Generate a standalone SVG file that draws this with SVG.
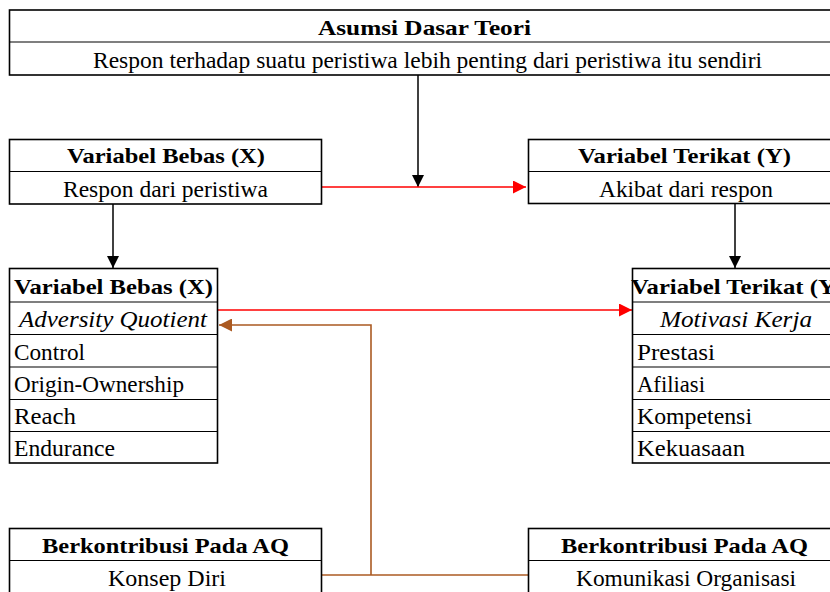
<svg xmlns="http://www.w3.org/2000/svg" width="830" height="592" viewBox="0 0 830 592">
  <style>
    .box { fill: #ffffff; stroke: #000000; stroke-width: 1.6; }
    .div { stroke: #000000; stroke-width: 1.2; }
    text { font-family: "Liberation Serif", "Times New Roman", serif; fill: #000000; }
    .hd { font-size: 22px; font-weight: bold; }
    .tx { font-size: 24px; }
    .it { font-size: 24px; font-style: italic; }
    .blk { stroke: #000000; stroke-width: 1.5; fill: none; }
    .red { stroke: #ff0000; stroke-width: 1.6; fill: none; }
    .brn { stroke: #ab5a22; stroke-width: 1.6; fill: none; }
  </style>
  <defs>
    <marker id="ah-black" viewBox="0 0 12 12" refX="12" refY="6" markerWidth="12" markerHeight="12" markerUnits="userSpaceOnUse" orient="auto">
      <path d="M0,0 L12,6 L0,12 z" fill="#000000"/>
    </marker>
    <marker id="ah-red" viewBox="0 0 13 13" refX="13" refY="6.5" markerWidth="13" markerHeight="13" markerUnits="userSpaceOnUse" orient="auto">
      <path d="M0,0 L13,6.5 L0,13 z" fill="#ff0000"/>
    </marker>
    <marker id="ah-brown" viewBox="0 0 13 13" refX="13" refY="6.5" markerWidth="13" markerHeight="13" markerUnits="userSpaceOnUse" orient="auto">
      <path d="M0,0 L13,6.5 L0,13 z" fill="#ab5a22"/>
    </marker>
  </defs>

  <rect width="830" height="592" fill="#ffffff"/>

  <!-- connectors -->
  <g id="connectors">
    <line class="blk" x1="418" y1="75" x2="418" y2="187" marker-end="url(#ah-black)"/>
    <line class="red" x1="321" y1="187" x2="526" y2="187" marker-end="url(#ah-red)"/>
    <line class="blk" x1="113" y1="204" x2="113" y2="268" marker-end="url(#ah-black)"/>
    <line class="blk" x1="735" y1="203" x2="735" y2="268" marker-end="url(#ah-black)"/>
    <line class="red" x1="217" y1="310" x2="632" y2="310" marker-end="url(#ah-red)"/>
    <line class="brn" x1="321" y1="575" x2="528" y2="575"/>
    <polyline class="brn" points="371,575 371,325 219,325" marker-end="url(#ah-brown)"/>
  </g>

  <!-- theory assumption -->
  <g id="asumsi">
    <rect class="box" x="9.5" y="10" width="840" height="65"/>
    <line class="div" x1="9.5" y1="42" x2="830" y2="42"/>
    <text class="hd" x="318" y="35" textLength="213" lengthAdjust="spacingAndGlyphs">Asumsi Dasar Teori</text>
    <text class="tx" x="93" y="68" textLength="669" lengthAdjust="spacingAndGlyphs">Respon terhadap suatu peristiwa lebih penting dari peristiwa itu sendiri</text>
  </g>

  <!-- independent variable, general -->
  <g id="x-umum">
    <rect class="box" x="9.5" y="139.5" width="312" height="64.5"/>
    <line class="div" x1="9.5" y1="171.5" x2="321.5" y2="171.5"/>
    <text class="hd" x="67" y="163" textLength="198" lengthAdjust="spacingAndGlyphs">Variabel Bebas (X)</text>
    <text class="tx" x="63" y="197" textLength="205" lengthAdjust="spacingAndGlyphs">Respon dari peristiwa</text>
  </g>

  <!-- dependent variable, general -->
  <g id="y-umum">
    <rect class="box" x="528.5" y="139.5" width="320" height="64"/>
    <line class="div" x1="528.5" y1="171.5" x2="830" y2="171.5"/>
    <text class="hd" x="578" y="163" textLength="213" lengthAdjust="spacingAndGlyphs">Variabel Terikat (Y)</text>
    <text class="tx" x="599" y="197" textLength="174" lengthAdjust="spacingAndGlyphs">Akibat dari respon</text>
  </g>

  <!-- adversity quotient -->
  <g id="x-aq">
    <rect class="box" x="9.5" y="268.5" width="208" height="194.5"/>
    <line class="div" x1="9.5" y1="302" x2="217.5" y2="302"/>
    <line class="div" x1="9.5" y1="334.5" x2="217.5" y2="334.5"/>
    <line class="div" x1="9.5" y1="367" x2="217.5" y2="367"/>
    <line class="div" x1="9.5" y1="399.5" x2="217.5" y2="399.5"/>
    <line class="div" x1="9.5" y1="431.5" x2="217.5" y2="431.5"/>
    <text class="hd" x="14" y="294" textLength="199" lengthAdjust="spacingAndGlyphs">Variabel Bebas (X)</text>
    <text class="it" x="19" y="327" textLength="188" lengthAdjust="spacingAndGlyphs">Adversity Quotient</text>
    <text class="tx" x="14" y="360" textLength="71" lengthAdjust="spacingAndGlyphs">Control</text>
    <text class="tx" x="14" y="392" textLength="170" lengthAdjust="spacingAndGlyphs">Origin-Ownership</text>
    <text class="tx" x="14" y="424" textLength="62" lengthAdjust="spacingAndGlyphs">Reach</text>
    <text class="tx" x="14" y="456" textLength="101" lengthAdjust="spacingAndGlyphs">Endurance</text>
  </g>

  <!-- work motivation -->
  <g id="y-motivasi">
    <rect class="box" x="632.5" y="268.5" width="216" height="194.5"/>
    <line class="div" x1="632.5" y1="302" x2="830" y2="302"/>
    <line class="div" x1="632.5" y1="334.5" x2="830" y2="334.5"/>
    <line class="div" x1="632.5" y1="367" x2="830" y2="367"/>
    <line class="div" x1="632.5" y1="399.5" x2="830" y2="399.5"/>
    <line class="div" x1="632.5" y1="431.5" x2="830" y2="431.5"/>
    <text class="hd" x="631" y="294" textLength="213" lengthAdjust="spacingAndGlyphs">Variabel Terikat (Y)</text>
    <text class="it" x="660" y="327" textLength="152" lengthAdjust="spacingAndGlyphs">Motivasi Kerja</text>
    <text class="tx" x="637" y="360" textLength="78" lengthAdjust="spacingAndGlyphs">Prestasi</text>
    <text class="tx" x="637" y="392" textLength="68" lengthAdjust="spacingAndGlyphs">Afiliasi</text>
    <text class="tx" x="637" y="424" textLength="115" lengthAdjust="spacingAndGlyphs">Kompetensi</text>
    <text class="tx" x="637" y="456" textLength="108" lengthAdjust="spacingAndGlyphs">Kekuasaan</text>
  </g>

  <!-- contributor: self concept -->
  <g id="konsep-diri">
    <rect class="box" x="9.5" y="528.5" width="312" height="80"/>
    <line class="div" x1="9.5" y1="560.5" x2="321.5" y2="560.5"/>
    <text class="hd" x="42" y="553" textLength="247" lengthAdjust="spacingAndGlyphs">Berkontribusi Pada AQ</text>
    <text class="tx" x="108" y="586" textLength="118" lengthAdjust="spacingAndGlyphs">Konsep Diri</text>
  </g>

  <!-- contributor: organisational communication -->
  <g id="komunikasi">
    <rect class="box" x="528.5" y="528.5" width="320" height="80"/>
    <line class="div" x1="528.5" y1="560.5" x2="830" y2="560.5"/>
    <text class="hd" x="561" y="553" textLength="247" lengthAdjust="spacingAndGlyphs">Berkontribusi Pada AQ</text>
    <text class="tx" x="576" y="586" textLength="220" lengthAdjust="spacingAndGlyphs">Komunikasi Organisasi</text>
  </g>
</svg>
